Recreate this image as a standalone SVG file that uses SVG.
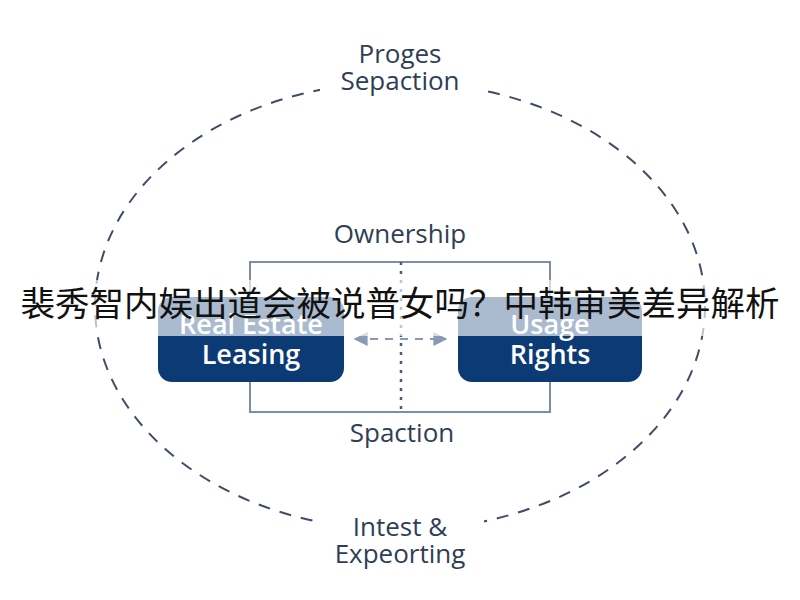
<svg xmlns="http://www.w3.org/2000/svg" width="800" height="600" viewBox="0 0 800 600">
<defs>
<style>
.lbl{font-family:"Open Sans","Liberation Sans",sans-serif;fill:#2f3e55;font-size:26px;text-anchor:middle}
.box{fill:#0c3a75}
.bt{font-family:"Open Sans","Liberation Sans",sans-serif;fill:#fff;font-size:27px;font-weight:600;text-anchor:middle}
</style>
<marker id="ah" viewBox="0 0 10 10" refX="9" refY="5" markerWidth="7" markerHeight="7" orient="auto-start-reverse"><path d="M0,0 L10,5 L0,10 z" fill="#8a9ab3"/></marker>
</defs>
<rect width="800" height="600" fill="#fff"/>
<g id="connectors">
<ellipse cx="400" cy="306" rx="305" ry="224" fill="none" stroke="#3f4d66" stroke-width="2" stroke-dasharray="12 10"/>
<rect x="250" y="262" width="300" height="150" fill="none" stroke="#7f8ea8" stroke-width="2"/>
<line x1="401" y1="262" x2="401" y2="414" stroke="#4a5a80" stroke-width="2.5" stroke-dasharray="3 6"/>
<line x1="355" y1="339" x2="446" y2="339" stroke="#8a9ab3" stroke-width="2" stroke-dasharray="8 7" marker-start="url(#ah)" marker-end="url(#ah)"/>
</g>
<g id="top"><rect x="320" y="36" width="160" height="64" fill="#fff"/><text class="lbl" x="400" y="63">Proges</text><text class="lbl" x="400" y="90">Sepaction</text></g>
<g id="bottom"><rect x="318" y="508" width="166" height="66" fill="#fff"/><text class="lbl" x="400" y="536">Intest &amp;</text><text class="lbl" x="400" y="563">Expeorting</text></g>
<g id="ownership"><text class="lbl" x="400" y="243" font-size="22">Ownership</text></g>
<g id="spaction"><text class="lbl" x="402" y="442" font-size="22">Spaction</text></g>
<g id="leasing"><rect class="box" x="158" y="297" width="186" height="85" rx="14"/><text class="bt" x="251" y="334">Real Estate</text><text class="bt" x="251" y="364">Leasing</text></g>
<g id="usage"><rect class="box" x="458" y="297" width="184" height="85" rx="14"/><text class="bt" x="550" y="334">Usage</text><text class="bt" x="550" y="364">Rights</text></g>
<g id="watermark"><rect x="0" y="280" width="800" height="56" fill="#fff" fill-opacity="0.65"/>
<text x="400" y="316" font-family="'Noto Sans CJK SC',sans-serif" font-size="34.5" fill="#111" text-anchor="middle">裴秀智内娱出道会被说普女吗？中韩审美差异解析</text></g>
</svg>
